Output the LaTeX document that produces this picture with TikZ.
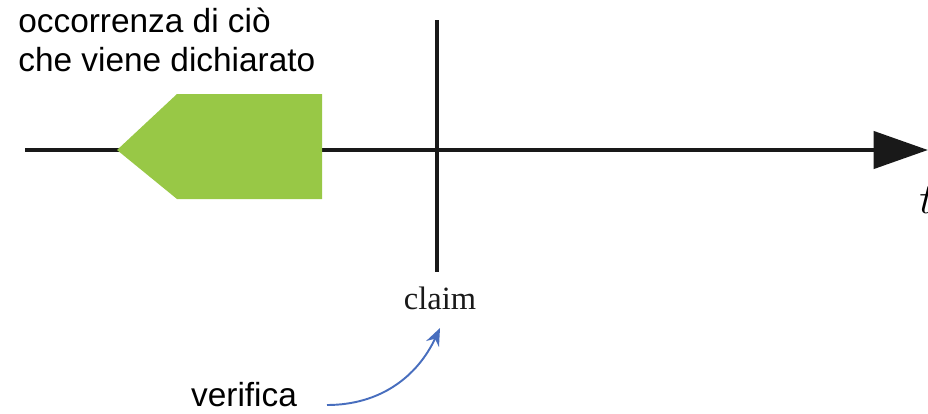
\documentclass[tikz,border=0pt]{standalone}
\usepackage{fontspec}
\usepackage{xcolor}
\usepackage{tikz}
\usetikzlibrary{arrows.meta}
\newfontfamily\labelfont{Liberation Sans}
\newfontfamily\claimfont{Liberation Serif}
\definecolor{eventgreen}{RGB}{152,200,70}
\definecolor{checkblue}{RGB}{72,110,190}

\begin{document}
\begin{tikzpicture}[x=0.02cm,y=-0.02cm,
    every node/.style={inner sep=0pt},
    axis/.style={line width=2.8pt,black!90},
    note/.style={font=\labelfont\fontsize{19}{22}\selectfont,align=left}]
    %
    \useasboundingbox (0,0) rectangle (928,413);
    %
    \coordinate (tstart) at (25,150);
    \coordinate (tend) at (928,150);
    \coordinate (ctop) at (437,20);
    \coordinate (cbot) at (437,272);
    \coordinate (vstart) at (327,405);
    \coordinate (vend) at (440,328);

    \node[note,anchor=north west] (event) at (18,8) {occorrenza di ciò\\che viene dichiarato};
    \node[font=\claimfont\fontsize{18.5}{22}\selectfont,text=black!90] (claim) at (440,298) {claim};
    \node[note] (check) at (244,395) {verifica};
    \node[font=\fontsize{30}{32}\selectfont,anchor=west] (t) at (919,200) {$t$};
    %
    \draw[axis,-{Triangle[length=31pt,width=21pt]}] (tstart) -- (tend);
    \draw[axis] (ctop) -- (cbot);
    \fill[eventgreen] (117,150) -- (177,94) -- (322,94) -- (322,199) -- (177,199) -- cycle;
    \draw[checkblue,line width=1.1pt,-{Stealth[length=10pt,width=8pt]}] (vstart) to[out=0,in=-115] (vend);
    %
\end{tikzpicture}
\end{document}
